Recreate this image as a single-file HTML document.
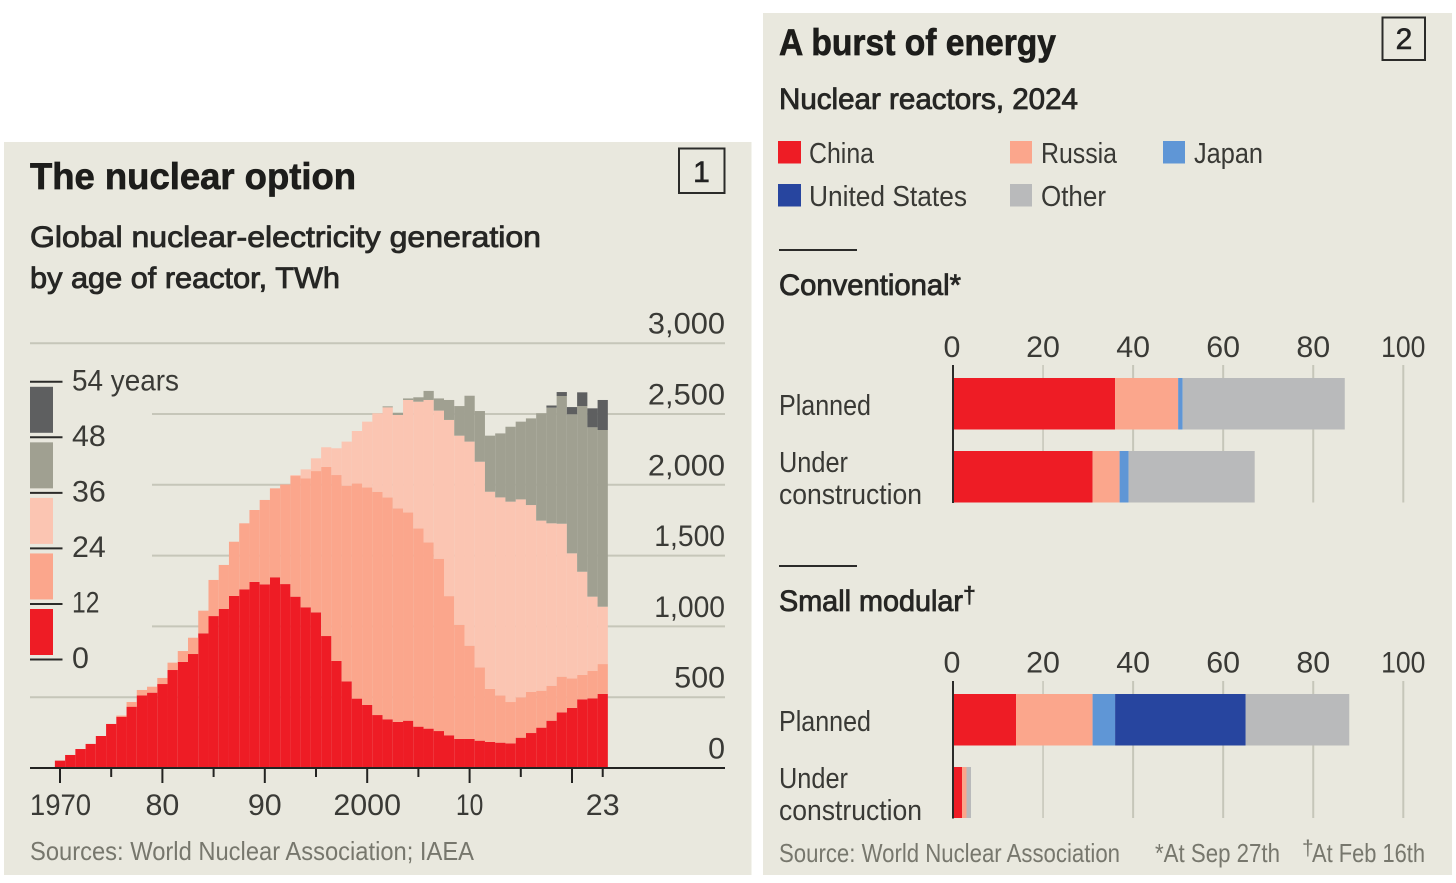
<!DOCTYPE html>
<html lang="en">
<head>
<meta charset="utf-8">
<title>The nuclear option / A burst of energy</title>
<style>
html,body{margin:0;padding:0;background:#fff;width:1456px;height:883px;overflow:hidden}
svg{display:block;font-family:"Liberation Sans",sans-serif}
.title{font-size:37px;font-weight:700;fill:#1d1d1b;stroke:#1d1d1b;stroke-width:.7px}
.sub{font-size:30px;fill:#262624;stroke:#262624;stroke-width:.85px}
.lab{font-size:29px;fill:#393935}
.tick{font-size:30px;fill:#3a3a36}
.src{font-size:26px;fill:#77776d}
</style>
</head>
<body>
<svg id="root" xmlns="http://www.w3.org/2000/svg" width="1456" height="883" viewBox="0 0 1456 883">
  <rect x="4" y="142" width="747.5" height="733" fill="#e9e8de"/>
  <rect x="763" y="13" width="689" height="862" fill="#e9e8de"/>

  <g id="left-grid"></g>
  <g id="left-bars"></g>
  <g id="left-axis"></g>
  <g id="left-yticks"></g>

  <text class="title" x="30" y="189" textLength="326" lengthAdjust="spacingAndGlyphs">The nuclear option</text>
  <text class="sub" x="30" y="247" textLength="511" lengthAdjust="spacingAndGlyphs">Global nuclear-electricity generation</text>
  <text class="sub" x="30" y="288" textLength="310" lengthAdjust="spacingAndGlyphs">by age of reactor, TWh</text>
  <rect x="679" y="148.500" width="45.500" height="44.500" fill="none" stroke="#2b2b29" stroke-width="2"/>
  <text x="701.500" y="182" font-size="30" text-anchor="middle" fill="#222" stroke="#222" stroke-width=".6">1</text>
  <text class="src" x="30" y="860" textLength="444" lengthAdjust="spacingAndGlyphs">Sources: World Nuclear Association; IAEA</text>

  <g id="age-legend"></g>

  <text class="title" x="779" y="55" textLength="277" lengthAdjust="spacingAndGlyphs">A burst of energy</text>
  <text class="sub" x="779" y="109" textLength="299" lengthAdjust="spacingAndGlyphs">Nuclear reactors, 2024</text>
  <rect x="1382.500" y="17.500" width="42.500" height="42.500" fill="none" stroke="#2b2b29" stroke-width="2"/>
  <text x="1404" y="49" font-size="30" text-anchor="middle" fill="#222" stroke="#222" stroke-width=".6">2</text>

  <g>
    <rect x="778" y="141" width="23" height="22.500" fill="#ee1c25"/>
    <text class="lab" x="809" y="163" textLength="65" lengthAdjust="spacingAndGlyphs">China</text>
    <rect x="1010" y="141" width="22" height="22.500" fill="#fba68c"/>
    <text class="lab" x="1041" y="163" textLength="76" lengthAdjust="spacingAndGlyphs">Russia</text>
    <rect x="1163" y="141" width="22" height="22.500" fill="#5f96d6"/>
    <text class="lab" x="1194" y="163" textLength="69" lengthAdjust="spacingAndGlyphs">Japan</text>
    <rect x="778" y="184" width="23" height="22.500" fill="#27459f"/>
    <text class="lab" x="809" y="206" textLength="158" lengthAdjust="spacingAndGlyphs">United States</text>
    <rect x="1010" y="184" width="22" height="22.500" fill="#b9babb"/>
    <text class="lab" x="1041" y="206" textLength="65" lengthAdjust="spacingAndGlyphs">Other</text>
  </g>

  <rect x="779" y="249" width="78" height="2" fill="#2b2b29"/>
  <text class="sub" x="779" y="295" textLength="182" lengthAdjust="spacingAndGlyphs">Conventional*</text>
  <rect x="779" y="565" width="78" height="2" fill="#2b2b29"/>
  <text class="sub" x="779" y="611" textLength="184" lengthAdjust="spacingAndGlyphs">Small modular</text>
  <text x="963" y="603" font-size="23" fill="#262624" stroke="#262624" stroke-width=".6">†</text>

  <g id="conv-chart"></g>
  <g id="smr-chart"></g>

  <text class="lab" x="779" y="415" textLength="92" lengthAdjust="spacingAndGlyphs">Planned</text>
  <text class="lab" x="779" y="472" textLength="69" lengthAdjust="spacingAndGlyphs">Under</text>
  <text class="lab" x="779" y="504" textLength="143" lengthAdjust="spacingAndGlyphs">construction</text>
  <text class="lab" x="779" y="731" textLength="92" lengthAdjust="spacingAndGlyphs">Planned</text>
  <text class="lab" x="779" y="788" textLength="69" lengthAdjust="spacingAndGlyphs">Under</text>
  <text class="lab" x="779" y="820" textLength="143" lengthAdjust="spacingAndGlyphs">construction</text>

  <text class="src" x="779" y="862" textLength="341" lengthAdjust="spacingAndGlyphs">Source: World Nuclear Association</text>
  <text class="src" x="1155" y="862" textLength="125" lengthAdjust="spacingAndGlyphs">*At Sep 27th</text>
  <text x="1302" y="855" font-size="21" fill="#77776d">†</text>
  <text class="src" x="1312" y="862" textLength="113" lengthAdjust="spacingAndGlyphs">At Feb 16th</text>
</svg>

<script>
// ---- Chart 1 data: TWh by reactor age band, 1970-2023 ----
const firstYear = 1970;
const age0to12 = [52,92,134,170,226,311,362,433,513,532,593,692,749,805,951,1073,1123,1215,1262,1314,1297,1347,1299,1210,1135,1099,932,756,612,490,445,374,344,325,334,292,278,261,231,205,205,193,184,179,174,214,247,285,334,393,424,485,492,523];
const age12to24 = [0,0,0,0,0,0,8,33,38,42,43,52,77,115,160,255,311,383,466,508,596,628,703,852,911,998,1194,1313,1382,1520,1537,1577,1567,1509,1471,1400,1315,1217,983,807,659,518,374,334,292,285,290,261,247,252,209,172,193,211];
const age24to36 = [0,0,0,0,0,0,0,0,0,0,0,0,0,0,0,0,0,0,0,0,0,0,0,7,63,90,139,189,311,370,464,554,636,659,794,895,1006,1046,1244,1335,1441,1452,1393,1398,1415,1398,1320,1201,1147,1080,883,729,525,405];
const age36to48 = [0,0,0,0,0,0,0,0,0,0,0,0,0,0,0,0,0,0,0,0,0,0,0,0,0,0,0,0,0,0,0,0,7,16,11,31,64,86,141,209,324,358,396,452,529,549,612,758,817,902,982,1170,1196,1248];
const age48to54 = [0,0,0,0,0,0,0,0,0,0,0,0,0,0,0,0,0,0,0,0,0,0,0,0,0,0,0,0,0,0,0,0,0,0,0,0,0,0,0,0,0,0,0,0,0,0,0,0,15,28,51,97,134,212];
const ageBandNames = ['age-0-12','age-12-24','age-24-36','age-36-48','age-48-54'];
const yTickValues = [0,500,1000,1500,2000,2500,3000];
const yTickLabels = ['0','500','1,000','1,500','2,000','2,500','3,000'];
const xMajorYears = [1970,1980,1990,2000,2010,2020];
const xMinorYears = [1975,1985,1995,2005,2015,2023];
const xLabelYears = [1970,1980,1990,2000,2010,2023];
const xLabelTexts = ['1970','80','90','2000','10','23'];
const legendAgeLabels = ['0','12','24','36','48','54 years'];

// ---- Chart 2 data: reactor counts by country ----
const countryNames = ['china','russia','japan','united-states','other'];
const conventionalPlanned = [36,14,1,0,36];
const conventionalUnderConstruction = [31,6,2,0,28];
const smallModularPlanned = [14,17,5,29,23];
const smallModularUnderConstruction = [2,1,0,0,1];
const countTicks = [0,20,40,60,80,100];

// ---- Drawing ----
const NS = 'http://www.w3.org/2000/svg';
const ageColors = ['#ee1c25','#fba68c','#fbc5b2','#a0a091','#5e5f60'];
const countryColors = ['#ee1c25','#fba68c','#5f96d6','#27459f','#b9babb'];
const gridColor = '#c6c6b9';
function add(parent, tag, attrs, text){
  const el = document.createElementNS(NS, tag);
  for (const k in attrs) el.setAttribute(k, attrs[k]);
  if (text !== undefined) el.textContent = text;
  parent.appendChild(el);
  return el;
}
function numWidth(s){
  let w = 0;
  for (const c of s) w += c === '1' ? 10.5 : c === ',' ? 9.5 : 16.9;
  return w;
}
function numText(parent, s, x, y, anchor){
  return add(parent, 'text', {class:'tick', x:x, y:y, 'text-anchor':anchor, textLength:numWidth(s), lengthAdjust:'spacingAndGlyphs'}, s);
}

// Chart 1 axes
const xYear = yr => 60 + (yr - firstYear) * 10.24;
const yTwh = v => 768 - v * 0.1416;
const gridLeft = v => (v === 3000 || v === 500) ? 30 : 152;

const gridG = document.getElementById('left-grid');
yTickValues.forEach(v => {
  if (v === 0) return;
  const g = add(gridG, 'line', {x1:gridLeft(v), x2:725, y1:yTwh(v), y2:yTwh(v), stroke:gridColor, 'stroke-width':2});
  
  
});

const barsG = document.getElementById('left-bars');
const ageSeries = [age0to12, age12to24, age24to36, age36to48, age48to54];
const cumulative = age0to12.map(() => 0);
ageSeries.forEach((series, s) => {
  const group = add(barsG, 'g', {});
  
  
  series.forEach((v, i) => {
    const base = cumulative[i];
    cumulative[i] = base + v;
    if (v <= 0) return;
    const yr = firstYear + i;
    const bar = add(group, 'rect', {x:xYear(yr) - 5.12, width:10.24, y:yTwh(base + v), height:yTwh(base) - yTwh(base + v), fill:ageColors[s]});
    
    
  });
});

const axisG = document.getElementById('left-axis');
const baseLine = add(axisG, 'line', {x1:30, x2:725, y1:768, y2:768, stroke:'#232321', 'stroke-width':2});


xMajorYears.forEach(yr => {
  const t = add(axisG, 'line', {x1:xYear(yr), x2:xYear(yr), y1:768, y2:783, stroke:'#232321', 'stroke-width':2});
  
  
});
xMinorYears.forEach(yr => {
  const t = add(axisG, 'line', {x1:xYear(yr), x2:xYear(yr), y1:768, y2:777, stroke:'#232321', 'stroke-width':2});
  
  
});
xLabelYears.forEach((yr, i) => {
  const cx = yr === 1970 ? 60.5 : xYear(yr);
  const t = numText(axisG, xLabelTexts[i], cx, 815, 'middle');
  
  
});

const yG = document.getElementById('left-yticks');
yTickValues.forEach((v, i) => {
  const t = numText(yG, yTickLabels[i], 725, yTwh(v) - 9.5, 'end');
  
  
});

// Age legend
const legendG = document.getElementById('age-legend');
const legendRowY = k => 659.5 - k * 55.55;
legendAgeLabels.forEach((label, k) => {
  const y = legendRowY(k);
  const tick = add(legendG, 'line', {x1:30, x2:62.5, y1:y, y2:y, stroke:'#2b2b29', 'stroke-width':2});
  
  
  const txt = label.indexOf('years') >= 0
    ? add(legendG, 'text', {class:'tick', x:72, y:y + 8.5, textLength:107, lengthAdjust:'spacingAndGlyphs'}, label)
    : numText(legendG, label, 72, y + 8.5, 'start');
  
  
  if (k < 5) {
    const sw = add(legendG, 'rect', {x:30, y:y - 50.5, width:23, height:46, fill:ageColors[k]});
    
    
  }
});

// Chart 2 axis
const xCount = v => 953 + v * 4.503;
function drawBarChart(id, labelY, axisTop, axisBottom, rows){
  const g = document.getElementById(id);
  countTicks.forEach(v => {
    if (v > 0) {
      const gl = add(g, 'line', {x1:xCount(v), x2:xCount(v), y1:axisTop, y2:axisBottom, stroke:gridColor, 'stroke-width':v === 20 ? 1.5 : 2});
      
      
    }
    const lab = numText(g, String(v), xCount(v) - (v === 0 ? 1 : 0), labelY, 'middle');
    
    
  });
  rows.forEach(row => {
    let run = 0;
    row.values.forEach((v, c) => {
      if (v > 0) {
        const seg = add(g, 'rect', {x:xCount(run), width:xCount(run + v) - xCount(run), y:row.top, height:row.height, fill:countryColors[c]});
        
        
      }
      run += v;
    });
  });
  const zero = add(g, 'line', {x1:953, x2:953, y1:axisTop, y2:axisBottom + 0.5, stroke:'#2b2b29', 'stroke-width':2});
  
  
}
drawBarChart('conv-chart', 357, 365, 502.5, [
  {name:'conventional-planned', values:conventionalPlanned, top:378, height:51.5},
  {name:'conventional-under-construction', values:conventionalUnderConstruction, top:451, height:51.5}
]);
drawBarChart('smr-chart', 672.5, 681, 818, [
  {name:'small-modular-planned', values:smallModularPlanned, top:694, height:51.5},
  {name:'small-modular-under-construction', values:smallModularUnderConstruction, top:767, height:51}
]);
</script>
</body>
</html>
